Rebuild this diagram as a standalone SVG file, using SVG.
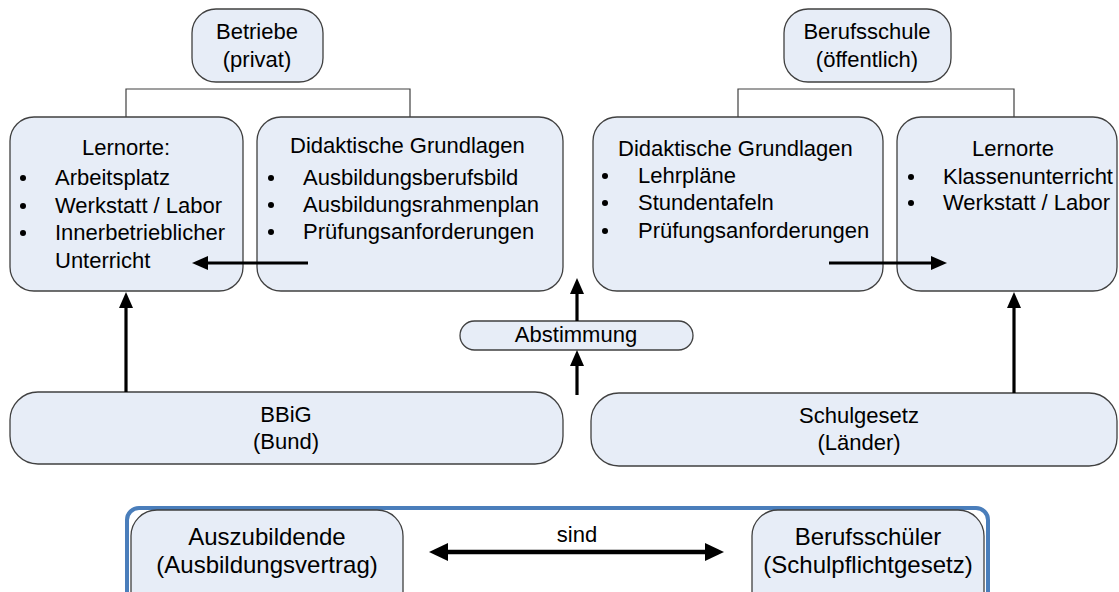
<svg xmlns="http://www.w3.org/2000/svg" width="1119" height="592" viewBox="0 0 1119 592">
<defs>
<style>
.box{fill:#e7edf7;stroke:#404040;stroke-width:1.3}
.t{font-family:"Liberation Sans",Arial,sans-serif;font-size:22px;fill:#000}
.tb{font-family:"Liberation Sans",Arial,sans-serif;font-size:24px;fill:#000}
.c{text-anchor:middle}
.thin{fill:none;stroke:#404040;stroke-width:1.2}
.arr{fill:none;stroke:#000;stroke-width:3.2}
.arr2{fill:none;stroke:#000;stroke-width:4.5}
.dot{fill:#000}
</style>
<marker id="ah" markerUnits="userSpaceOnUse" markerWidth="17" markerHeight="16" refX="6" refY="8" orient="auto-start-reverse">
<path d="M0,1 L16,8 L0,15 z" fill="#000"/>
</marker>
<marker id="ah2" markerUnits="userSpaceOnUse" markerWidth="20" markerHeight="20" refX="6" refY="10" orient="auto-start-reverse">
<path d="M0,1 L19,10 L0,19 z" fill="#000"/>
</marker>
</defs>
<rect width="1119" height="592" fill="#fff"/>

<g id="betriebe">
<rect class="box" x="192" y="9" width="131" height="73" rx="24"/>
<text class="t c" x="257" y="39">Betriebe</text>
<text class="t c" x="257" y="67">(privat)</text>
</g>

<g id="berufsschule">
<rect class="box" x="784" y="9" width="167" height="73" rx="24"/>
<text class="t c" x="867" y="39">Berufsschule</text>
<text class="t c" x="867" y="67">(öffentlich)</text>
</g>

<g id="lernorte-betrieb">
<rect class="box" x="10" y="117" width="233" height="174" rx="24"/>
<text class="t c" x="126" y="155">Lernorte:</text>
<circle class="dot" cx="23" cy="178" r="3"/>
<circle class="dot" cx="23" cy="206" r="3"/>
<circle class="dot" cx="23" cy="233" r="3"/>
<text class="t" x="55" y="185">Arbeitsplatz</text>
<text class="t" x="55" y="213">Werkstatt / Labor</text>
<text class="t" x="55" y="240">Innerbetrieblicher</text>
<text class="t" x="55" y="268">Unterricht</text>
</g>

<g id="didaktik-betrieb">
<rect class="box" x="257" y="117" width="306" height="174" rx="24"/>
<text class="t" x="290" y="153">Didaktische Grundlagen</text>
<circle class="dot" cx="271" cy="178" r="3"/>
<circle class="dot" cx="271" cy="205" r="3"/>
<circle class="dot" cx="271" cy="232" r="3"/>
<text class="t" x="303" y="185">Ausbildungsberufsbild</text>
<text class="t" x="303" y="212">Ausbildungsrahmenplan</text>
<text class="t" x="303" y="239">Prüfungsanforderungen</text>
</g>

<g id="didaktik-schule">
<rect class="box" x="593" y="117" width="290" height="174" rx="24"/>
<text class="t" x="618" y="156">Didaktische Grundlagen</text>
<circle class="dot" cx="605" cy="176" r="3"/>
<circle class="dot" cx="605" cy="203" r="3"/>
<circle class="dot" cx="605" cy="231" r="3"/>
<text class="t" x="638" y="183">Lehrpläne</text>
<text class="t" x="638" y="210">Stundentafeln</text>
<text class="t" x="638" y="238">Prüfungsanforderungen</text>
</g>

<g id="lernorte-schule">
<rect class="box" x="897" y="117" width="220" height="174" rx="24"/>
<text class="t c" x="1013" y="156">Lernorte</text>
<circle class="dot" cx="911" cy="177" r="3"/>
<circle class="dot" cx="911" cy="203" r="3"/>
<text class="t" x="943" y="184">Klassenunterricht</text>
<text class="t" x="943" y="210">Werkstatt / Labor</text>
</g>

<g id="abstimmung">
<rect class="box" x="460" y="321" width="233" height="29" rx="14.5"/>
<text class="t c" x="576" y="342">Abstimmung</text>
</g>

<g id="bbig">
<rect class="box" x="10" y="392" width="553" height="72" rx="28"/>
<text class="t c" x="286" y="422">BBiG</text>
<text class="t c" x="286" y="449">(Bund)</text>
</g>

<g id="schulgesetz">
<rect class="box" x="591" y="393" width="526" height="73" rx="28"/>
<text class="t c" x="859" y="423">Schulgesetz</text>
<text class="t c" x="859" y="450">(Länder)</text>
</g>

<g id="rahmen">
<rect x="127" y="508" width="861" height="110" rx="12" fill="none" stroke="#4a7ebb" stroke-width="4"/>
</g>

<g id="auszubildende">
<rect class="box" x="131" y="510" width="272" height="110" rx="26"/>
<text class="tb c" x="267" y="545">Auszubildende</text>
<text class="tb c" x="267" y="573">(Ausbildungsvertrag)</text>
</g>

<g id="berufsschueler">
<rect class="box" x="752" y="510" width="232" height="110" rx="26"/>
<text class="tb c" x="868" y="545">Berufsschüler</text>
<text class="tb c" x="868" y="573">(Schulpflichtgesetz)</text>
</g>

<g id="connectors">
<path class="thin" d="M126,117 V89 H410 V117"/>
<path class="thin" d="M738,117 V89 H1014 V117"/>
<path class="arr" d="M308,263 H202" marker-end="url(#ah)"/>
<path class="arr" d="M829,263 H937" marker-end="url(#ah)"/>
<path class="arr" d="M126,392 V302" marker-end="url(#ah)"/>
<path class="arr" d="M1014,393 V302" marker-end="url(#ah)"/>
<path class="arr" d="M577,321 V288" marker-end="url(#ah)"/>
<path class="arr" d="M577,395 V360" marker-end="url(#ah)"/>
<path class="arr2" d="M442,552 H711" marker-start="url(#ah2)" marker-end="url(#ah2)"/>
<text class="t c" x="577" y="542">sind</text>
</g>
</svg>
